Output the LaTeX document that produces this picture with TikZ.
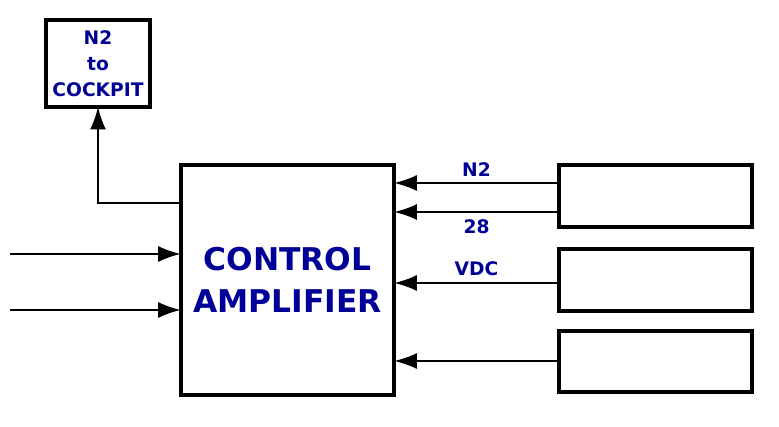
\documentclass[tikz,border=0pt]{standalone}
\usepackage{fontspec}
\setmainfont{DejaVu Sans}
\usetikzlibrary{arrows.meta}
\definecolor{labelblue}{RGB}{0,0,150}
\tikzstyle{block} = [rectangle, draw=black, line width=3pt, fill=white, inner sep=0pt, outer sep=0pt, align=center]
\tikzstyle{arrow} = [line width=1.5pt, -{Latex[length=17pt,width=12pt]}]
\tikzstyle{sigtext} = [text=labelblue, font=\bfseries\fontsize{14}{19.5}\selectfont]
\tikzstyle{bigtext} = [text=labelblue, font=\bfseries\fontsize{23.5}{31.5}\selectfont]

\begin{document}
\begin{tikzpicture}[x=0.75pt, y=-0.75pt]
	\useasboundingbox (0,0) rectangle (779,427);
	
	\node (cockpit) [block, sigtext, minimum width=78pt, minimum height=65pt] at (98,63.5) {N2\\to\\COCKPIT};
	\node (amp) [block, bigtext, minimum width=160pt, minimum height=173pt] at (287.5,280) {CONTROL\\AMPLIFIER};
	\node (src1) [block, minimum width=145pt, minimum height=46.5pt] at (655.5,196) {};
	\node (src2) [block, minimum width=145pt, minimum height=46.5pt] at (655.5,280) {};
	\node (src3) [block, minimum width=145pt, minimum height=46pt] at (655.5,361.5) {};
	
	% signal rows
	\coordinate (in1) at (10,254);
	\coordinate (in2) at (10,310);
	\coordinate (outrow) at (0,203);
	\coordinate (n2row) at (0,183);
	\coordinate (vrow) at (0,212);
	\coordinate (vdcrow) at (0,283);
	\coordinate (lastrow) at (0,361);
	
	\draw [arrow] (in1) -- (in1 -| amp.west);
	\draw [arrow] (in2) -- (in2 -| amp.west);
	\draw [arrow] (amp.west |- outrow) -| (cockpit.south);
	\draw [arrow] (src1.west |- n2row) -- node[sigtext, above=1pt] {N2} (amp.east |- n2row);
	\draw [arrow] (src1.west |- vrow) -- node[sigtext, below=2pt] {28} (amp.east |- vrow);
	\draw [arrow] (src2.west |- vdcrow) -- node[sigtext, above=1pt] {VDC} (amp.east |- vdcrow);
	\draw [arrow] (src3.west |- lastrow) -- (amp.east |- lastrow);
\end{tikzpicture}
\end{document}
